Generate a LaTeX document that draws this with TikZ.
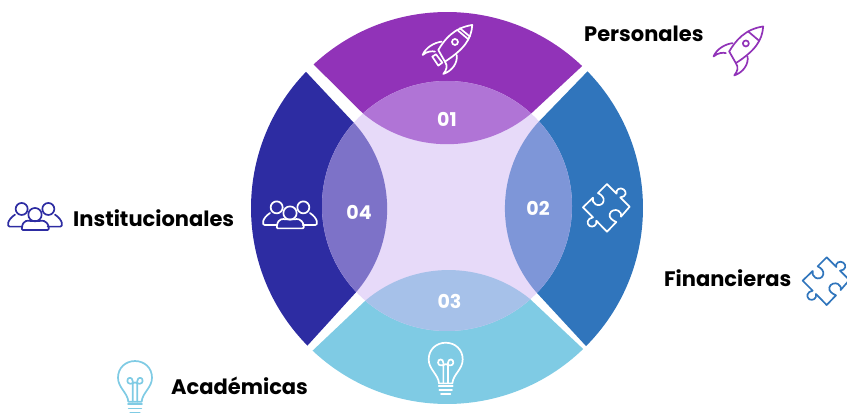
\documentclass[tikz,border=0pt]{standalone}
\usepackage{fontspec}
\setmainfont{Poppins}[BoldFont=Poppins Bold]
\definecolor{cPurple}{HTML}{9133B8}
\definecolor{cBlue}{HTML}{3075BC}
\definecolor{cNavy}{HTML}{2D2CA2}
\definecolor{cSky}{HTML}{7FCBE4}
\definecolor{cLav}{HTML}{E7DAF9}
\definecolor{lPurple}{HTML}{B074D6}
\definecolor{lBlue}{HTML}{7E96D8}
\definecolor{lNavy}{HTML}{7D72C8}
\definecolor{lSky}{HTML}{A6C1E9}
\newcommand{\sectTop}{([shift={(447,205)}]132.9:196) arc[start angle=132.9,end angle=46.4,radius=196] -- (531.7,300) arc[start angle=-49.5,end angle=-130.3,radius=130.3] -- cycle}
\newcommand{\sectRight}{([shift={(447,205)}]44.2:196) arc[start angle=44.2,end angle=-44.8,radius=196] -- (537,120) arc[start angle=221.5,end angle=137.6,radius=127.8] -- cycle}
\newcommand{\sectBottom}{([shift={(447,205)}]226.7:196) arc[start angle=226.7,end angle=314,radius=196] -- (530,114) arc[start angle=50.8,end angle=130,radius=128.7] -- cycle}
\newcommand{\sectLeft}{([shift={(447,205)}]224.6:196) arc[start angle=224.6,end angle=136,radius=196] -- (354,290) arc[start angle=42.3,end angle=-41.4,radius=127.4] -- cycle}
\tikzset{
  num/.style={text=white,font=\bfseries\fontsize{19}{19}\selectfont,inner sep=0pt},
  lab/.style={text=black,font=\bfseries\fontsize{21}{21}\selectfont,inner sep=0pt},
  icon/.style={line width=1.7pt,line join=round,line cap=round},
  rocket/.pic={
    \begin{scope}[scale=0.3333,icon,draw=#1]
      \draw (-27,-2) .. controls (-8,30) and (20,65) .. (75,73) .. controls (72,30) and (50,0) .. (-7,-37) -- cycle;
      \draw (30,58) -- (63,30);
      \draw (-17,23) .. controls (-40,20) and (-65,5) .. (-74,-17) .. controls (-60,-5) and (-45,-5) .. (-37,-7);
      \draw (28,-17) .. controls (32,-40) and (15,-65) .. (-12,-74) .. controls (-2,-62) and (2,-50) .. (-7,-37);
      \draw (23,22) circle[radius=9];
    \end{scope}
  },
  nozzle/.pic={
    \begin{scope}[scale=0.3333,icon,draw=#1]
      \draw (38,63) -- (68,38);
      \draw (-45,-22) -- (-34,-15) -- (-15,-40) -- (-27,-49) -- cycle;
    \end{scope}
  },
  people/.pic={
    \begin{scope}[scale=0.3333,icon,draw=#1]
      \draw (-40,28) circle[radius=18];
      \draw (40,28) circle[radius=18];
      \draw (0,11) circle[radius=20];
      \draw (-37,-35) -- (38,-35) .. controls (42,-35) and (42,-30) .. (41,-25) .. controls (35,-5) and (20,-6) .. (14,-8) -- (-14,-8) .. controls (-20,-6) and (-35,-5) .. (-39,-25) .. controls (-40,-30) and (-40,-35) .. (-37,-35) -- cycle;
      \draw (-38,-25) -- (-76,-25) .. controls (-85,-25) and (-84,-5) .. (-60,11);
      \draw (38,-25) -- (76,-25) .. controls (85,-25) and (84,-5) .. (60,11);
    \end{scope}
  },
  puzzle/.pic={
    \begin{scope}[scale=0.3333,icon,draw=#1]
      \draw (2,71) -- (-25,44) .. controls (-12,38) and (-6,28) .. (-8,20) .. controls (-10,8) and (-24,5) .. (-32,10) .. controls (-40,15) and (-42,22) .. (-40,30) -- (-70,1) -- (-40,-29) .. controls (-58,-32) and (-60,-48) .. (-50,-55) .. controls (-40,-60) and (-27,-53) .. (-30,-39) -- (2,-72) -- (30,-43) .. controls (18,-38) and (8,-30) .. (10,-20) .. controls (12,-8) and (28,-4) .. (36,-9) .. controls (44,-14) and (46,-20) .. (44,-27) -- (70,3) -- (42,31) .. controls (60,32) and (62,48) .. (52,55) .. controls (42,62) and (27,55) .. (31,42) -- cycle;
    \end{scope}
  },
  bulb/.pic={
    \begin{scope}[scale=0.3333,icon,draw=#1]
      \draw (-20,-72) .. controls (-22,-45) and (-51,-30) .. (-51,0) .. controls (-51,30) and (-28,50) .. (0,50) .. controls (28,50) and (51,30) .. (51,0) .. controls (51,-30) and (22,-45) .. (20,-72) -- cycle;
      \draw (-7,-72) -- (-7,-10) .. controls (-7,3) and (-24,3) .. (-23,-10) .. controls (-22,-20) and (-10,-20) .. (0,-14) .. controls (10,-20) and (22,-20) .. (23,-10) .. controls (24,3) and (7,3) .. (7,-10) -- (7,-72);
      \draw (-21,-79) -- (21,-79);
      \draw (-19,-92) -- (19,-92);
      \draw (-14,-104) -- (14,-104);
    \end{scope}
  }
}
\begin{document}
\begin{tikzpicture}[x=1pt,y=1pt]
\useasboundingbox (0,0) rectangle (847,413);
\fill[cPurple] \sectTop;
\fill[cBlue] \sectRight;
\fill[cSky] \sectBottom;
\fill[cNavy] \sectLeft;
\fill[cLav] (447,207) circle[radius=125];
\begin{scope}
  \clip (447,207) circle[radius=125];
  \fill[lPurple] \sectTop;
  \fill[lBlue] \sectRight;
  \fill[lSky] \sectBottom;
  \fill[lNavy] \sectLeft;
\end{scope}
\node[num] (n1) at (447,293.5) {01};
\node[num] (n2) at (538,204.5) {02};
\node[num] (n3) at (449.5,112) {03};
\node[num] (n4) at (359,201) {04};
\node[lab,anchor=west] (l1) at (584,379) {Personales};
\node[lab,anchor=west] (l2) at (664,135) {Financieras};
\node[lab,anchor=west] (l3) at (171,27) {Académicas};
\node[lab,anchor=west] (l4) at (73,195) {Institucionales};
\pic at (447.3,363.7) {rocket=white};
\pic at (447.3,363.7) {nozzle=white};
\pic at (738.2,362.2) {rocket=cPurple};
\pic at (606.3,205.3) {puzzle=white};
\pic at (826,132) {puzzle=cBlue};
\pic at (290,196.3) {people=white};
\pic at (35,194.7) {people=cNavy};
\pic at (445.7,53.6) {bulb=white};
\pic at (135,35.3) {bulb=cSky};
\end{tikzpicture}
\end{document}
